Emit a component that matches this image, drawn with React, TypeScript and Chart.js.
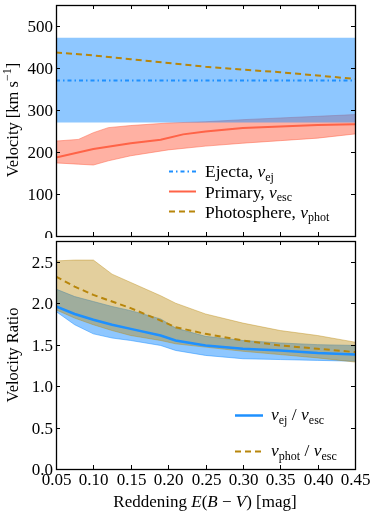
import React, { useEffect, useRef } from "react";
import { Chart, registerables } from "chart.js";
Chart.register(...registerables);

const FONT = "'Liberation Serif', 'Times New Roman', serif";
Chart.defaults.font.family = FONT;

// ---- top panel data (Velocity, km/s) ----
const ejectaX = [0.05, 0.45];
const ejectaV = [370, 370];
const ejectaHi = [472, 472];
const ejectaLo = [270, 270];
const photX = [0.05, 0.1, 0.15, 0.2, 0.25, 0.3, 0.35, 0.4, 0.45];
const photV = [437, 430, 421, 412, 403, 396, 390, 382, 374];
const primX = [0.05, 0.1, 0.15, 0.19, 0.22, 0.25, 0.3, 0.35, 0.4, 0.45];
const primV = [187, 207, 221, 229, 242, 249, 257, 261, 264, 266];
const primBandX = [0.05, 0.08, 0.1, 0.12, 0.15, 0.2, 0.25, 0.3, 0.35, 0.4, 0.45];
const primHi = [226, 230, 246, 258, 263, 269, 272, 277, 281, 285, 289];
const primLo = [174, 171, 169, 179, 191, 205, 214, 221, 227, 233, 243];

// ---- bottom panel data (Velocity ratio) ----
const ratioX = [0.05, 0.075, 0.1, 0.125, 0.15, 0.19, 0.21, 0.25, 0.3, 0.35, 0.4, 0.45];
const ejRatio = [1.96, 1.87, 1.8, 1.74, 1.69, 1.61, 1.55, 1.49, 1.45, 1.43, 1.4, 1.38];
const ejRatioHi = [2.17, 2.08, 2.02, 1.96, 1.91, 1.81, 1.7, 1.6, 1.55, 1.52, 1.5, 1.49];
const ejRatioLo = [1.9, 1.74, 1.63, 1.58, 1.55, 1.49, 1.43, 1.37, 1.33, 1.32, 1.31, 1.3];
const photRatio = [2.32, 2.2, 2.1, 2.02, 1.94, 1.79, 1.71, 1.63, 1.55, 1.49, 1.45, 1.41];
const photRatioHi = [2.51, 2.52, 2.52, 2.35, 2.25, 2.09, 2.0, 1.87, 1.76, 1.67, 1.61, 1.53];
const photRatioLo = [1.92, 1.82, 1.74, 1.67, 1.61, 1.55, 1.51, 1.47, 1.42, 1.38, 1.34, 1.29];

const BLUE = "rgb(30,144,255)";
const BLUE_BAND = "rgba(30,144,255,0.5)";
const RED = "rgb(255,99,71)";
const RED_BAND = "rgba(255,99,71,0.5)";
const GOLD = "rgb(184,134,11)";
const GOLD_BAND = "rgba(184,134,11,0.4)";
const EJ_DASH = [4, 3, 1.5, 3];
const PHOT_DASH = [6, 4];

const pts = (xs: number[], ys: number[]) => xs.map((x, i) => ({ x, y: ys[i] }));

type Part = { t: string; it?: boolean; sub?: boolean; sup?: boolean };

function partFont(p: Part, size: number) {
  const s = p.sub || p.sup ? Math.round(size * 0.7) : size;
  return `${p.it ? "italic " : ""}${s}px ${FONT}`;
}

function drawRich(ctx: CanvasRenderingContext2D, parts: Part[], x: number, y: number, size: number, align: "left" | "center" | "right") {
  ctx.textBaseline = "alphabetic";
  ctx.textAlign = "left";
  let w = 0;
  for (const p of parts) {
    ctx.font = partFont(p, size);
    w += ctx.measureText(p.t).width;
  }
  let cx = align === "center" ? x - w / 2 : align === "right" ? x - w : x;
  for (const p of parts) {
    ctx.font = partFont(p, size);
    const dy = p.sub ? size * 0.22 : p.sup ? -size * 0.4 : 0;
    ctx.fillText(p.t, cx, y + dy);
    cx += ctx.measureText(p.t).width;
  }
}

function legendLine(ctx: CanvasRenderingContext2D, x0: number, x1: number, y: number, color: string, dash: number[], width: number) {
  ctx.save();
  ctx.strokeStyle = color;
  ctx.lineWidth = width;
  ctx.setLineDash(dash);
  ctx.beginPath();
  ctx.moveTo(x0, y);
  ctx.lineTo(x1, y);
  ctx.stroke();
  ctx.restore();
}

const TICK_SIZE = 17;

function framePlugin(
  yFmt: (v: number) => string,
  showXLabels: boolean,
  extra: (ctx: CanvasRenderingContext2D, chart: any) => void
) {
  return {
    id: "frameTicks",
    afterDraw(chart: any) {
      const { ctx, chartArea: a, scales } = chart;
      ctx.save();
      ctx.strokeStyle = "#000";
      ctx.fillStyle = "#000";
      ctx.lineWidth = 1;
      const L = 4;
      scales.x.ticks.forEach((t: any) => {
        const px = Math.round(scales.x.getPixelForValue(t.value)) + 0.5;
        ctx.beginPath();
        ctx.moveTo(px, a.bottom);
        ctx.lineTo(px, a.bottom - L);
        ctx.moveTo(px, a.top);
        ctx.lineTo(px, a.top + L);
        ctx.stroke();
        if (showXLabels) {
          drawRich(ctx, [{ t: Number(t.value).toFixed(2) }], px, a.bottom + 16, TICK_SIZE, "center");
        }
      });
      scales.y.ticks.forEach((t: any) => {
        const py = Math.round(scales.y.getPixelForValue(t.value)) + 0.5;
        ctx.beginPath();
        ctx.moveTo(a.left, py);
        ctx.lineTo(a.left + L, py);
        ctx.moveTo(a.right, py);
        ctx.lineTo(a.right - L, py);
        ctx.stroke();
        drawRich(ctx, [{ t: yFmt(Number(t.value)) }], a.left - 3, py + 5, TICK_SIZE, "right");
      });
      ctx.lineWidth = 1.3;
      ctx.strokeRect(Math.round(a.left) + 0.5, Math.round(a.top) + 0.5, Math.round(a.right - a.left), Math.round(a.bottom - a.top));
      extra(ctx, chart);
      ctx.restore();
    },
  };
}

function yTitle(ctx: CanvasRenderingContext2D, parts: Part[], x: number, cy: number) {
  ctx.save();
  ctx.translate(x, cy);
  ctx.rotate(-Math.PI / 2);
  drawRich(ctx, parts, 0, 0, 16.5, "center");
  ctx.restore();
}

function baseScales(ymax: number, ystep: number, xHeight: number) {
  return {
    x: {
      type: "linear" as const,
      min: 0.05,
      max: 0.45,
      grid: { display: false, drawTicks: false },
      border: { display: false },
      ticks: { display: false, stepSize: 0.05, autoSkip: false },
      afterFit: (s: any) => {
        s.height = xHeight;
      },
    },
    y: {
      type: "linear" as const,
      min: 0,
      max: ymax,
      grid: { display: false, drawTicks: false },
      border: { display: false },
      ticks: { display: false, stepSize: ystep, includeBounds: false, autoSkip: false },
      afterFit: (s: any) => {
        s.width = 56;
      },
    },
  };
}

export default function App() {
  const topRef = useRef<HTMLCanvasElement>(null);
  const botRef = useRef<HTMLCanvasElement>(null);

  useEffect(() => {
    const top = new Chart(topRef.current!, {
      type: "line",
      data: {
        datasets: [
          { data: pts(ejectaX, ejectaV), borderColor: BLUE, borderWidth: 2, borderDash: EJ_DASH, fill: false, order: 1 },
          { data: pts(primX, primV), borderColor: RED, borderWidth: 2, fill: false, order: 1 },
          { data: pts(photX, photV), borderColor: GOLD, borderWidth: 2, borderDash: PHOT_DASH, fill: false, order: 1 },
          { data: pts(ejectaX, ejectaHi), borderColor: BLUE_BAND, borderWidth: 0, backgroundColor: BLUE_BAND, fill: "+1", order: 5 },
          { data: pts(ejectaX, ejectaLo), borderColor: BLUE_BAND, borderWidth: 0, fill: false, order: 5 },
          { data: pts(primBandX, primHi), borderColor: RED_BAND, borderWidth: 1, backgroundColor: RED_BAND, fill: "+1", order: 6 },
          { data: pts(primBandX, primLo), borderColor: RED_BAND, borderWidth: 1, fill: false, order: 6 },
        ],
      },
      options: {
        animation: false,
        responsive: false,
        maintainAspectRatio: false,
        layout: { padding: { top: 5, right: 19, left: 0, bottom: 0 } },
        plugins: { legend: { display: false }, tooltip: { enabled: false } },
        elements: { point: { radius: 0 }, line: { tension: 0 } },
        scales: baseScales(550, 100, 2),
      } as any,
      plugins: [
        framePlugin((v) => String(Math.round(v)), false, (ctx) => {
          yTitle(ctx, [{ t: "Velocity [km s" }, { t: "\u22121", sup: true }, { t: "]" }], 18, 120);
          legendLine(ctx, 169, 196, 171.5, BLUE, EJ_DASH, 2);
          legendLine(ctx, 169, 196, 191.5, RED, [], 2);
          legendLine(ctx, 169, 196, 211.5, GOLD, PHOT_DASH, 2);
          drawRich(ctx, [{ t: "Ejecta, " }, { t: "v", it: true }, { t: "ej", sub: true }], 205, 177, 17.5, "left");
          drawRich(ctx, [{ t: "Primary, " }, { t: "v", it: true }, { t: "esc", sub: true }], 205, 197.5, 17.5, "left");
          drawRich(ctx, [{ t: "Photosphere, " }, { t: "v", it: true }, { t: "phot", sub: true }], 205, 217.5, 17.5, "left");
        }),
      ],
    });

    const bot = new Chart(botRef.current!, {
      type: "line",
      data: {
        datasets: [
          { data: pts(ratioX, ejRatio), borderColor: BLUE, borderWidth: 2.5, fill: false, order: 1 },
          { data: pts(ratioX, photRatio), borderColor: GOLD, borderWidth: 2, borderDash: PHOT_DASH, fill: false, order: 1 },
          { data: pts(ratioX, ejRatioHi), borderColor: BLUE_BAND, borderWidth: 1, backgroundColor: BLUE_BAND, fill: "+1", order: 6 },
          { data: pts(ratioX, ejRatioLo), borderColor: BLUE_BAND, borderWidth: 1, fill: false, order: 6 },
          { data: pts(ratioX, photRatioHi), borderColor: GOLD_BAND, borderWidth: 1, backgroundColor: GOLD_BAND, fill: "+1", order: 5 },
          { data: pts(ratioX, photRatioLo), borderColor: GOLD_BAND, borderWidth: 1, fill: false, order: 5 },
        ],
      },
      options: {
        animation: false,
        responsive: false,
        maintainAspectRatio: false,
        layout: { padding: { top: 3, right: 19, left: 0, bottom: 0 } },
        plugins: { legend: { display: false }, tooltip: { enabled: false } },
        elements: { point: { radius: 0 }, line: { tension: 0 } },
        scales: baseScales(2.75, 0.5, 54),
      } as any,
      plugins: [
        framePlugin((v) => v.toFixed(1), true, (ctx) => {
          yTitle(ctx, [{ t: "Velocity Ratio" }], 18, 117);
          legendLine(ctx, 235, 263, 177.5, BLUE, [], 2.5);
          legendLine(ctx, 235, 263, 213.5, GOLD, PHOT_DASH, 2);
          drawRich(ctx, [{ t: "v", it: true }, { t: "ej", sub: true }, { t: " / " }, { t: "v", it: true }, { t: "esc", sub: true }], 271, 182, 17.5, "left");
          drawRich(ctx, [{ t: "v", it: true }, { t: "phot", sub: true }, { t: " / " }, { t: "v", it: true }, { t: "esc", sub: true }], 271, 218, 17.5, "left");
          drawRich(
            ctx,
            [{ t: "Reddening " }, { t: "E", it: true }, { t: "(" }, { t: "B", it: true }, { t: " \u2212 " }, { t: "V", it: true }, { t: ") [mag]" }],
            205,
            269,
            17,
            "center"
          );
        }),
      ],
    });

    return () => {
      top.destroy();
      bot.destroy();
    };
  }, []);

  return (
    <div style={{ position: "absolute", left: 0, top: 0, width: 374, height: 523, background: "#fff" }}>
      <canvas ref={topRef} width={374} height={238} style={{ position: "absolute", left: 0, top: 0, display: "block" }} />
      <canvas ref={botRef} width={374} height={285} style={{ position: "absolute", left: 0, top: 238, display: "block" }} />
    </div>
  );
}
